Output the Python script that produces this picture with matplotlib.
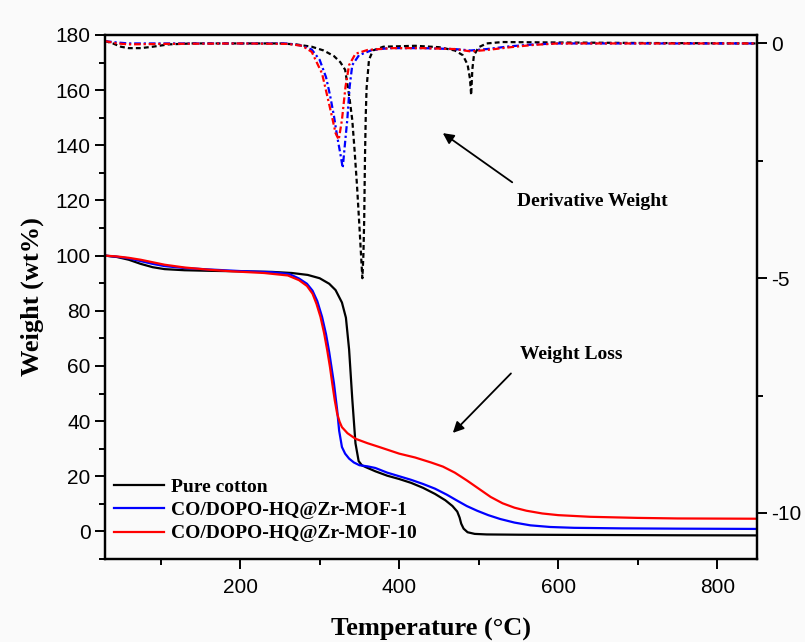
import numpy as np
import matplotlib
matplotlib.use('Agg')
import matplotlib.pyplot as plt
from matplotlib.ticker import MultipleLocator

# TGA curves: temperature (C) and residual weight (wt%)
t_cotton = [30, 45, 60, 75, 90, 105, 130, 160, 200, 240, 265, 285, 300, 312, 320, 328,
            333, 337, 341, 345, 349, 353, 358, 370, 385, 400, 415, 430,
            445, 458, 467, 473, 476, 478, 481, 486, 495, 510, 550, 650, 750, 850]
w_cotton = [100.0, 99.5, 98.5, 97.0, 95.8, 95.1, 94.7, 94.5, 94.3, 94.1, 93.7, 93.0, 91.8,
            89.8, 87.5, 83.0, 77.5, 66.0, 48.0, 32.0, 25.5, 24.0, 23.3,
            21.8, 20.2, 19.0, 17.6, 15.8, 13.6, 11.3, 9.2, 7.2, 5.0, 2.8, 1.0, -0.3, -0.9,
            -1.1, -1.2, -1.3, -1.4, -1.45]

t_mof1 = [30, 45, 60, 75, 90, 105, 130, 160, 200, 240, 262, 274, 284, 291, 297, 303, 308,
          312, 318, 322, 324.5, 328, 332, 337, 343, 350, 360, 370, 385, 400, 415, 430, 445, 460,
          472, 485, 498, 512, 527, 545, 565, 590, 620, 680, 750, 850]
w_mof1 = [100.0, 99.6, 99.0, 98.0, 97.0, 96.2, 95.5, 95.0, 94.4, 94.0, 93.3, 91.7, 89.8,
          87.3, 83.5, 77.8, 71.5, 65.0, 53.6, 44.0, 36.5, 30.6, 28.2, 26.4, 25.0, 24.0,
          23.6, 23.0, 21.3, 20.0, 18.7, 17.2, 15.5, 13.3, 11.3, 9.2, 7.5, 5.9, 4.5, 3.2, 2.2,
          1.6, 1.3, 1.1, 1.0, 0.9]

t_mof10 = [30, 45, 60, 75, 90, 105, 130, 160, 190, 230, 260, 274, 284, 291, 296, 301, 305.5,
           309.5, 313, 316, 319, 322, 325, 328, 335, 345, 360, 375, 400, 420, 440, 455, 470,
           485, 500, 515, 530, 545, 560, 580, 600, 640, 700, 750, 850]
w_mof10 = [100.0, 99.7, 99.2, 98.5, 97.6, 96.7, 95.7, 94.9, 94.3, 93.7, 92.8, 91.1, 89.0,
           86.2, 82.5, 77.8, 72.0, 65.7, 59.5, 53.3, 47.5, 42.7, 39.8, 37.8, 35.6, 33.6,
           32.0, 30.6, 28.2, 26.8, 25.0, 23.5, 21.3, 18.5, 15.5, 12.5, 10.2, 8.6, 7.5, 6.5,
           5.9, 5.3, 4.9, 4.7, 4.6]

# DTG curves: temperature (C) and derivative weight (%/C)
td_cotton = [30, 40, 50, 60, 75, 90, 110, 140, 200, 250, 270, 290, 305, 318, 326, 332, 337,
             341, 344, 347, 350, 352, 353.7, 355, 356, 357, 358, 359, 362, 367, 380, 420,
             450, 470, 480, 486, 489, 490.5, 492, 494, 500, 510, 530, 600, 700, 850]
d_cotton = [0.05, 0.0, -0.07, -0.10, -0.10, -0.07, -0.02, 0.0, 0.0, 0.0, -0.02, -0.07, -0.15,
            -0.27, -0.40, -0.56, -1.10, -1.63, -2.30, -3.04, -3.90, -4.50, -5.00, -4.50,
            -3.75, -2.40, -1.50, -0.95, -0.35, -0.15, -0.07, -0.05, -0.08, -0.15, -0.25,
            -0.45, -0.75, -1.10, -0.55, -0.25, -0.08, 0.0, 0.03, 0.02, 0.01, 0.0]

td_mof1 = [30, 45, 60, 100, 200, 260, 278, 290, 300, 308, 313, 318, 322, 326, 329, 332,
           334.7, 337.7, 341, 349.5, 366, 387, 430, 470, 490, 510, 540, 570, 600, 850]
d_mof1 = [0.05, 0.02, 0.0, 0.0, 0.0, 0.0, -0.05, -0.13, -0.35, -0.72, -1.10, -1.55, -1.98,
          -2.35, -2.65, -2.10, -1.63, -0.92, -0.46, -0.25, -0.14, -0.10, -0.10, -0.12,
          -0.15, -0.12, -0.06, -0.02, 0.0, 0.0]

td_mof10 = [30, 45, 60, 100, 200, 260, 278, 290, 303, 311.6, 316, 320, 324, 328, 332.5,
            337, 345, 360, 390, 430, 470, 490, 510, 540, 570, 600, 850]
d_mof10 = [0.05, 0.0, -0.02, -0.01, 0.0, -0.01, -0.05, -0.18, -0.64, -1.27, -1.60, -1.91,
           -2.05, -1.63, -0.92, -0.46, -0.22, -0.14, -0.10, -0.10, -0.12, -0.17, -0.14,
           -0.08, -0.03, 0.0, 0.0]

labels = ['Pure cotton', 'CO/DOPO-HQ@Zr-MOF-1', 'CO/DOPO-HQ@Zr-MOF-10']
colors = ['black', '#0000ff', '#ff0000']

bg = '#fafafa'
serif = ['Liberation Serif', 'DejaVu Serif']
plt.rcParams['font.family'] = ['Liberation Sans', 'DejaVu Sans']
plt.rcParams['axes.unicode_minus'] = False

fig = plt.figure(figsize=(8.05, 6.42), dpi=100, facecolor=bg)
ax = fig.add_axes([0.1304, 0.1293, 0.81, 0.8162], facecolor=bg)
ax2 = ax.twinx()

ax.plot(t_cotton, w_cotton, color=colors[0], lw=1.6, label=labels[0])
ax.plot(t_mof1, w_mof1, color=colors[1], lw=1.6, label=labels[1])
ax.plot(t_mof10, w_mof10, color=colors[2], lw=1.6, label=labels[2])

ax2.plot(td_cotton, d_cotton, color=colors[0], lw=1.6, dashes=(2.2, 1.4))
ax2.plot(td_mof1, d_mof1, color=colors[1], lw=1.6, dashes=(3, 1.3, 1, 1.3))
ax2.plot(td_mof10, d_mof10, color=colors[2], lw=1.6, dashes=(3, 1.3, 1, 1.3))

ax.set_xlim(30, 850)
ax.set_ylim(-10, 180)
ax2.set_ylim(-10.98, 0.18)

ax.xaxis.set_major_locator(MultipleLocator(200))
ax.xaxis.set_minor_locator(MultipleLocator(100))
ax.yaxis.set_major_locator(MultipleLocator(20))
ax.yaxis.set_minor_locator(MultipleLocator(10))
ax2.yaxis.set_major_locator(MultipleLocator(5))
ax2.yaxis.set_minor_locator(MultipleLocator(2.5))

for a in (ax, ax2):
    for s in a.spines.values():
        s.set_linewidth(1.6)
    a.tick_params(which='major', direction='out', length=7, width=1.4, labelsize=15)
    a.tick_params(which='minor', direction='out', length=4.5, width=1.4)
ax.tick_params(axis='x', pad=7)

ax.set_xlabel('Temperature (°C)', fontsize=19, fontweight='bold', family=serif, labelpad=15)
ax.set_ylabel('Weight (wt%)', fontsize=19, fontweight='bold', family=serif, labelpad=8)

ax.legend(loc='lower left', bbox_to_anchor=(-0.012, 0.0), frameon=False,
          prop={'family': serif, 'weight': 'bold', 'size': 14},
          handlelength=2.6, handletextpad=0.35, labelspacing=0.3, borderaxespad=0.45)

ax.annotate('', xy=(452, 145), xytext=(545, 126),
            arrowprops=dict(arrowstyle='-|>', color='black', lw=1.3, mutation_scale=16))
ax.text(643, 119.5, 'Derivative Weight', ha='center', va='center',
        fontsize=14, fontweight='bold', family=serif)

ax.annotate('', xy=(465, 35), xytext=(543, 58),
            arrowprops=dict(arrowstyle='-|>', color='black', lw=1.3, mutation_scale=16))
ax.text(616, 64, 'Weight Loss', ha='center', va='center',
        fontsize=14, fontweight='bold', family=serif)

fig.savefig('out.png', dpi=100, facecolor=bg)
